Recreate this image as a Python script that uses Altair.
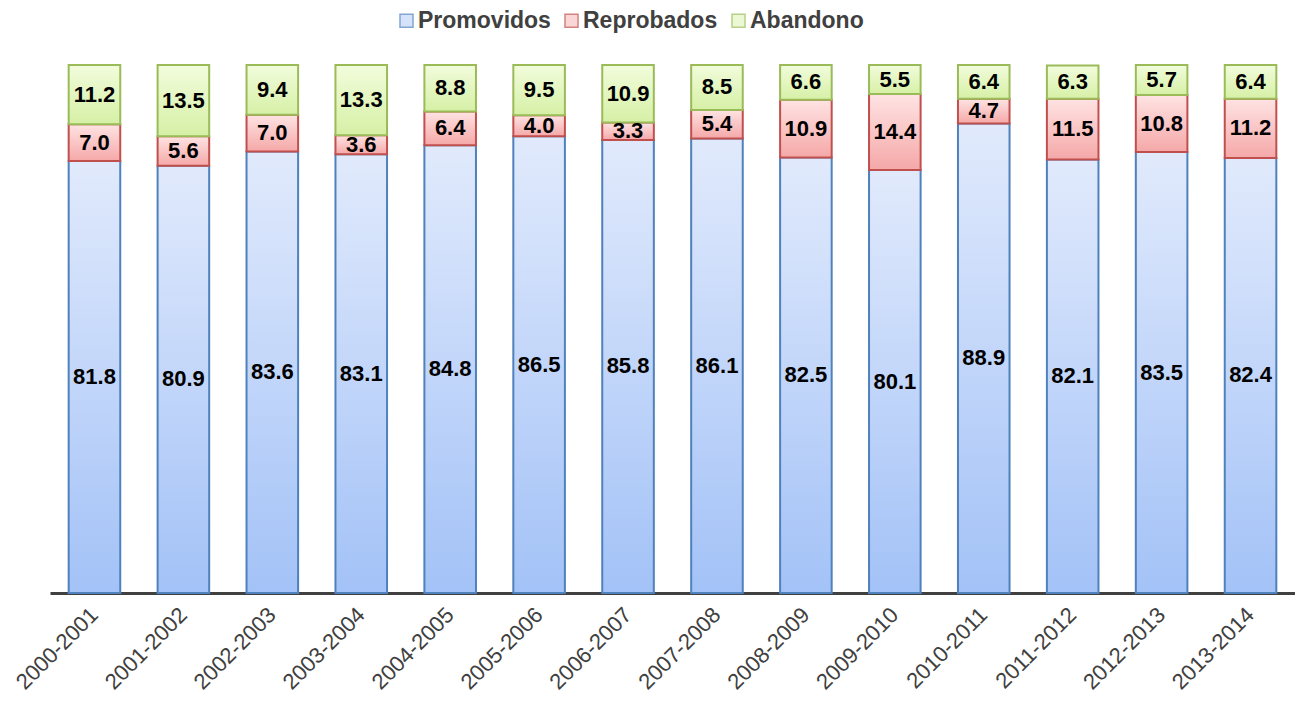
import altair as alt
import pandas as pd

years = ["2000-2001", "2001-2002", "2002-2003", "2003-2004", "2004-2005", "2005-2006",
         "2006-2007", "2007-2008", "2008-2009", "2009-2010", "2010-2011", "2011-2012",
         "2012-2013", "2013-2014"]
promovidos = [81.8, 80.9, 83.6, 83.1, 84.8, 86.5, 85.8, 86.1, 82.5, 80.1, 88.9, 82.1, 83.5, 82.4]
reprobados = [7.0, 5.6, 7.0, 3.6, 6.4, 4.0, 3.3, 5.4, 10.9, 14.4, 4.7, 11.5, 10.8, 11.2]
abandono = [11.2, 13.5, 9.4, 13.3, 8.8, 9.5, 10.9, 8.5, 6.6, 5.5, 6.4, 6.3, 5.7, 6.4]
series_names = ["Promovidos", "Reprobados", "Abandono"]

top_colors = ["#e1eafc", "#ffe3e3", "#f2fcdc"]
bottom_colors = ["#a3c2f7", "#f5a8a8", "#d6f0a6"]
mid_colors = ["#c3d6fa", "#fac6c6", "#e4f6c1"]
stroke_colors = ["#4f81bd", "#c0504d", "#9bbb59"]

rows = []
for i, y in enumerate(years):
    acc = 0.0
    for s, vals in zip(series_names, [promovidos, reprobados, abandono]):
        v = vals[i]
        rows.append({"year": y, "series": s, "value": v,
                     "y0": acc, "y1": acc + v, "mid": acc + v / 2,
                     "label": f"{v:.1f}"})
        acc += v
df = pd.DataFrame(rows)

FONT = "Liberation Sans"

x_enc = alt.X("year:N", sort=years, title=None,
              scale=alt.Scale(paddingInner=0.42, paddingOuter=0.21),
              axis=alt.Axis(labelAngle=-45, labelAlign="right", labelBaseline="middle",
                            labelFontSize=22, labelFont=FONT, labelColor="#404040",
                            labelPadding=18, ticks=False, domainColor="#404040",
                            domainWidth=3, grid=False, labelLimit=300))
y_scale = alt.Scale(domain=[0, 100], nice=False)

base = alt.Chart(df)

# legend-only layer (hidden behind bars)
legend_layer = base.transform_filter(alt.datum.year == years[0]).mark_point(
    shape="square", filled=True, size=0, strokeWidth=1.5
).encode(
    x=x_enc,
    y=alt.Y("y0:Q", scale=y_scale, axis=None),
    fill=alt.Fill("series:N", sort=series_names,
                  scale=alt.Scale(domain=series_names, range=mid_colors),
                  legend=alt.Legend(title=None, orient="none", direction="horizontal",
                                    legendX=345, legendY=-56, symbolType="square",
                                    symbolSize=170, symbolStrokeWidth=1.5,
                                    labelFont=FONT, labelFontSize=23, labelFontWeight="bold",
                                    labelColor="#404040", labelOffset=0,
                                    columnPadding=9, padding=0, labelLimit=300)),
    stroke=alt.Stroke("series:N", sort=series_names,
                      scale=alt.Scale(domain=series_names, range=stroke_colors)),
)

bar_layers = []
for s, tc, bc, sc in zip(series_names, top_colors, bottom_colors, stroke_colors):
    grad = alt.Gradient(gradient="linear", x1=0, y1=0, x2=0, y2=1,
                        stops=[alt.GradientStop(color=tc, offset=0),
                               alt.GradientStop(color=bc, offset=1)])
    bar_layers.append(
        base.transform_filter(alt.datum.series == s).mark_bar(
            fill=grad, stroke=sc, strokeWidth=2
        ).encode(
            x=x_enc,
            y=alt.Y("y0:Q", scale=y_scale, axis=None),
            y2="y1:Q",
        )
    )

text_layer = base.mark_text(font=FONT, fontSize=22, fontWeight="bold", color="#000000",
                            baseline="middle", align="center").encode(
    x=x_enc,
    y=alt.Y("mid:Q", scale=y_scale, axis=None),
    text="label:N",
)

chart = alt.layer(legend_layer, *bar_layers, text_layer).properties(
    width=1245, height=528,
    background="white",
    autosize=alt.AutoSizeParams(type="none"),
    padding={"left": 42, "top": 57, "right": 0, "bottom": 104},
).configure_view(strokeWidth=0, stroke=None)

chart.save("out.html", embed_options={"renderer": "svg", "actions": False})
